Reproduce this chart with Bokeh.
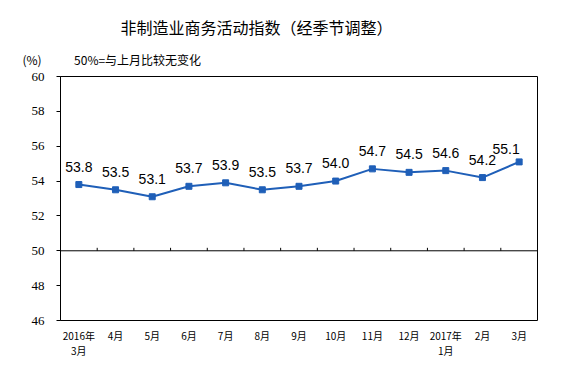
from bokeh.plotting import figure
from bokeh.models import Range1d, FixedTicker, Span, Title, ColumnDataSource
from bokeh.core.properties import value
from bokeh.embed import file_html
from bokeh.resources import INLINE

categories = ["2016年\n3月", "4月", "5月", "6月", "7月", "8月", "9月", "10月",
              "11月", "12月", "2017年\n1月", "2月", "3月"]
values = [53.8, 53.5, 53.1, 53.7, 53.9, 53.5, 53.7, 54.0, 54.7, 54.5, 54.6, 54.2, 55.1]
y_ticks = [46, 48, 50, 52, 54, 56, 58, 60]
title_text = "非制造业商务活动指数（经季节调整）"
note_text = "(%)" + "\u2003\u2003\u2002\u2009" + "50%=与上月比较无变化"

n = len(categories)
xs = [i + 0.5 for i in range(n)]
labels = ["%.1f" % v for v in values]
x_offs = [0] * (n - 1) + [-13]
y_offs = [-18] * (n - 1) + [-13]

blue = "#1f5fb8"

p = figure(frame_width=477, frame_height=244, output_backend="svg", toolbar_location=None,
           x_range=Range1d(0, n), y_range=Range1d(46, 60),
           min_border_left=60, min_border_right=22, min_border_top=76, min_border_bottom=40)
p.background_fill_color = "white"
p.border_fill_color = "white"
p.outline_line_color = "black"
p.outline_line_width = 1
p.xgrid.visible = False
p.ygrid.visible = False

# y axis
p.yaxis.ticker = FixedTicker(ticks=y_ticks)
p.yaxis.minor_tick_line_color = None
p.yaxis.major_tick_in = 0
p.yaxis.major_tick_out = 4
p.yaxis.major_label_standoff = 12
p.yaxis.axis_line_color = "black"
p.yaxis.major_label_text_font = "Liberation Serif"
p.yaxis.major_label_text_font_size = "13px"
p.yaxis.major_label_text_color = "black"

# x axis
p.xaxis.ticker = FixedTicker(ticks=xs)
p.xaxis.major_label_overrides = {x: c for x, c in zip(xs, categories)}
p.xaxis.major_tick_line_color = None
p.xaxis.minor_tick_line_color = None
p.xaxis.axis_line_color = None
p.xaxis.major_label_standoff = 1
p.xaxis.major_label_text_font = "Noto Sans CJK SC"
p.xaxis.major_label_text_font_size = "10px"
p.xaxis.major_label_text_line_height = 1.0
p.xaxis.major_label_text_color = "black"

# 50% reference line with category boundary ticks
p.add_layout(Span(location=50, dimension="width", line_color="black", line_width=1))
bx = list(range(1, n))
p.segment(x0=bx, y0=[50] * len(bx), x1=bx, y1=[50.17] * len(bx), line_color="black", line_width=1)

src = ColumnDataSource(dict(x=xs, y=values, t=labels, xo=x_offs, yo=y_offs))
p.line("x", "y", source=src, line_color=blue, line_width=2)
p.scatter("x", "y", source=src, marker="square", size=6, fill_color=blue, line_color=blue)
p.text("x", "y", text="t", source=src, x_offset="xo", y_offset="yo",
       text_align="center", text_baseline="middle", text_font=value("Liberation Sans"),
       text_font_size="14px", text_color="black")

# titles
p.add_layout(Title(text=note_text, align="left", offset=-38, standoff=17, text_font="Noto Sans CJK SC",
                   text_font_size="12px", text_font_style="normal", text_color="black"), "above")
p.title.text = title_text
p.title.align = "left"
p.title.offset = 60
p.title.standoff = 3
p.title.text_font = "Noto Sans CJK SC"
p.title.text_font_size = "16px"
p.title.text_font_style = "normal"
p.title.text_color = "black"

open("out.html", "w").write(file_html(p, INLINE))
